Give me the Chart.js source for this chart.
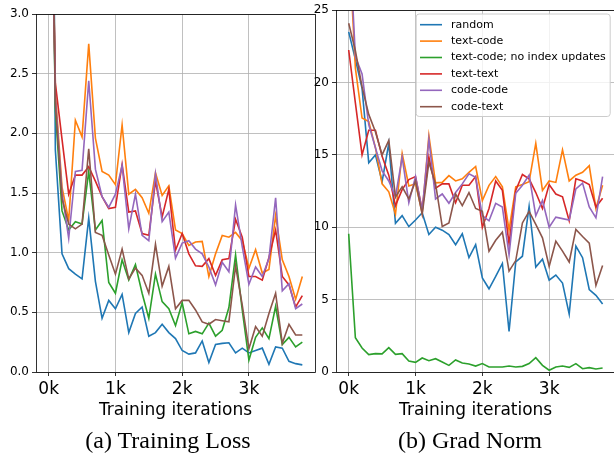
<!DOCTYPE html>
<html><head><meta charset="utf-8">
<script src="https://cdn.jsdelivr.net/npm/chart.js@4.4.1/dist/chart.umd.min.js"></script>
<style>
html,body{margin:0;padding:0;background:#fff;width:614px;height:457px;overflow:hidden;position:relative;}
canvas{position:absolute;top:0;}
#c1{left:0;}
#c2{left:300px;}
.cap{position:absolute;font-family:'Liberation Serif','Times New Roman',serif;font-size:24px;line-height:24px;color:#000;white-space:nowrap;transform:translateX(-50%);top:428px;}
</style></head><body>
<canvas id="c1" width="320" height="457"></canvas>
<canvas id="c2" width="320" height="457"></canvas>
<div class="cap" style="left:168px">(a) Training Loss</div>
<div class="cap" style="left:470px">(b) Grad Norm</div>
<script>
const iterations = [0,100,200,300,400,500,600,700,800,900,1000,1100,1200,1300,1400,1500,1600,1700,1800,1900,2000,2100,2200,2300,2400,2500,2600,2700,2800,2900,3000,3100,3200,3300,3400,3500,3600,3700,3800];
const seriesNames = ['random','text-code','text-code; no index updates','text-text','code-code','code-text'];
const seriesColors = ['#1f77b4','#ff7f0e','#2ca02c','#d62728','#9467bd','#8c564b'];
const xTicks = [0,1000,2000,3000];
const lossTicks = [0,0.5,1.0,1.5,2.0,2.5,3.0];
const gradTicks = [0,5,10,15,20,25];

// Training loss
const lossRandom   = [9.5,1.86,0.99,0.866,0.82,0.78,1.29,0.76,0.45,0.6,0.53,0.65,0.33,0.49,0.545,0.30,0.33,0.40,0.33,0.28,0.18,0.15,0.16,0.26,0.08,0.23,0.24,0.245,0.16,0.20,0.16,0.18,0.20,0.065,0.21,0.20,0.09,0.07,0.06];
const lossTextCode = [6.0,2.35,1.55,1.27,2.11,1.97,2.75,1.96,1.68,1.65,1.57,2.07,1.49,1.53,1.46,1.33,1.67,1.48,1.56,1.19,1.16,1.06,1.09,1.095,0.80,0.99,1.145,1.13,1.17,1.10,0.87,1.025,0.83,0.86,1.31,0.94,0.80,0.61,0.80];
const lossNoIndex  = [6.0,2.2,1.35,1.19,1.26,1.24,1.68,1.19,1.27,0.75,0.66,0.94,0.77,0.90,0.66,0.45,0.82,0.59,0.53,0.39,0.58,0.32,0.34,0.32,0.41,0.30,0.35,0.54,0.98,0.52,0.10,0.29,0.37,0.28,0.55,0.23,0.29,0.21,0.25];
const lossTextText = [5.3,2.42,1.95,1.49,1.65,1.65,1.72,1.60,1.47,1.37,1.38,1.74,1.34,1.35,1.16,1.145,1.60,1.30,1.53,1.02,1.16,0.99,0.89,0.885,0.95,0.81,0.94,0.95,1.28,1.13,0.80,0.80,0.77,0.96,1.19,0.80,0.73,0.545,0.64];
const lossCodeCode = [6.0,2.3,1.5,1.12,1.68,1.69,2.44,1.70,1.47,1.38,1.49,1.73,1.20,1.49,1.145,1.10,1.66,1.26,1.34,0.955,1.08,1.10,1.03,0.99,0.88,0.73,0.92,0.84,1.40,1.05,0.735,0.88,0.80,0.95,1.46,0.68,0.74,0.53,0.57];
const lossCodeText = [6.0,2.25,1.45,1.24,1.20,1.24,1.87,1.17,1.145,0.98,0.82,1.03,0.78,0.87,0.81,0.66,1.07,0.72,0.885,0.53,0.60,0.60,0.52,0.42,0.40,0.44,0.43,0.42,0.89,0.56,0.195,0.38,0.30,0.49,0.66,0.24,0.40,0.31,0.31];

// Grad norm
const gradRandom   = [23.5,21.6,19.6,14.45,15.0,13.15,15.8,10.28,10.8,10.05,10.5,11.0,9.5,10.0,9.8,9.5,8.8,9.55,7.9,8.8,6.5,5.75,6.6,7.5,2.8,7.6,8.0,11.44,7.25,7.8,6.35,6.7,6.15,4.0,8.7,7.9,5.7,5.3,4.7];
const gradTextCode = [30,21.0,17.55,17.3,15.5,13.0,12.45,10.9,15.1,12.85,13.0,11.0,16.33,13.07,13.1,13.57,13.2,13.35,13.8,14.2,11.85,12.9,13.5,12.8,9.8,12.8,12.95,13.15,15.8,12.55,13.2,13.1,15.35,13.2,13.6,13.8,14.25,11.3,12.9];
const gradNoIndex  = [9.55,2.37,1.66,1.2,1.27,1.25,1.68,1.22,1.27,0.76,0.67,0.97,0.78,0.92,0.69,0.46,0.83,0.62,0.55,0.41,0.58,0.35,0.35,0.35,0.41,0.35,0.39,0.58,0.99,0.46,0.12,0.35,0.41,0.32,0.58,0.23,0.30,0.21,0.28];
const gradTextText = [22.25,18.6,15.0,16.7,16.7,14.9,13.6,11.5,12.6,13.3,13.5,11.2,14.85,12.7,13.0,13.0,11.7,12.9,12.9,13.5,10.0,11.3,13.2,12.55,8.85,12.55,13.65,13.35,12.4,11.3,12.95,12.3,12.1,10.45,13.35,13.2,12.95,11.4,12.0];
const gradCodeCode = [31,21.8,20.6,17.1,15.5,13.9,13.2,12.1,14.85,11.7,13.5,11.15,16.1,11.96,12.3,11.66,12.4,13.0,13.7,13.45,10.8,10.45,11.65,11.4,8.1,12.35,12.9,13.6,10.8,11.85,10.0,10.7,10.6,10.5,12.65,13.05,11.4,10.65,13.5];
const gradCodeText = [24.1,22.2,19.7,17.8,16.6,15.0,16.0,12.1,12.8,11.96,13.2,10.9,14.5,13.0,10.05,10.3,12.3,11.5,12.4,11.3,11.1,8.35,9.1,9.66,6.97,7.7,10.3,11.1,10.2,9.27,7.3,9.04,8.35,7.6,9.85,9.36,8.9,5.98,7.36];

const lossSeries = [lossRandom,lossTextCode,lossNoIndex,lossTextText,lossCodeCode,lossCodeText];
const gradSeries = [gradRandom,gradTextCode,gradNoIndex,gradTextText,gradCodeCode,gradCodeText];

Chart.defaults.font.family = "'DejaVu Sans', sans-serif";
Chart.defaults.color = '#000';

function makeDatasets(series){
  return series.map((vals,k)=>({
    label: seriesNames[k],
    data: iterations.map((it,i)=>({x:it,y:vals[i]})),
    borderColor: seriesColors[k],
    backgroundColor: seriesColors[k],
    borderWidth: 1.6,
    pointRadius: 0,
    tension: 0,
    fill: false,
    clip: 0,
    order: series.length - 1 - k
  }));
}

const framePlugin = {
  id: 'frame',
  afterDraw(chart){
    const a = chart.chartArea, ctx = chart.ctx;
    ctx.save();
    ctx.strokeStyle = '#000';
    ctx.lineWidth = 0.8;
    ctx.strokeRect(Math.round(a.left)+0.5, Math.round(a.top)+0.5, Math.round(a.right)-Math.round(a.left), Math.round(a.bottom)-Math.round(a.top));
    ctx.restore();
  }
};

const legendPlugin = {
  id: 'mplLegend',
  afterDraw(chart, args, o){
    if (!o || !o.show) return;
    const ctx = chart.ctx;
    ctx.save();
    ctx.beginPath();
    ctx.roundRect(o.x+0.5, o.y+0.5, o.w, o.h, 3);
    ctx.fillStyle = 'rgba(255,255,255,0.8)';
    ctx.fill();
    ctx.strokeStyle = '#cccccc';
    ctx.lineWidth = 1;
    ctx.stroke();
    ctx.font = o.font;
    ctx.textBaseline = 'middle';
    chart.data.datasets.forEach((ds,k)=>{
      const yy = o.first + k*o.rowH;
      ctx.beginPath();
      ctx.moveTo(o.lineX0, yy); ctx.lineTo(o.lineX1, yy);
      ctx.strokeStyle = ds.borderColor; ctx.lineWidth = 1.6; ctx.stroke();
      ctx.fillStyle = '#000';
      ctx.fillText(ds.label, o.textX, yy);
    });
    ctx.restore();
  }
};

function makeChart(id, series, yTicks, yMax, yFmt, padTop, padRight, legendOpts){
  return new Chart(document.getElementById(id), {
    type: 'line',
    data: { datasets: makeDatasets(series) },
    plugins: [framePlugin, legendPlugin],
    options: {
      responsive: false,
      animation: false,
      layout: { padding: { left: 0, top: padTop, right: padRight, bottom: 30 } },
      plugins: { legend: { display: false }, tooltip: { enabled: false }, mplLegend: legendOpts },
      scales: {
        x: {
          type: 'linear', min: -190, max: 3990,
          afterBuildTicks: s => { s.ticks = xTicks.map(v=>({value:v})); },
          afterFit: s => { s.height = 55; },
          ticks: { callback: v => (v/1000) + 'k', font: { size: 17 }, color: '#000', padding: 3, maxRotation: 0 },
          grid: { color: '#b0b0b0', lineWidth: 0.8, drawTicks: true, tickLength: 4, tickColor: '#000', tickWidth: 0.8 },
          border: { display: false },
          title: { display: true, text: 'Training iterations', font: { size: 17 }, color: '#000', padding: { top: 0, bottom: 6 } }
        },
        y: {
          type: 'linear', min: 0, max: yMax,
          afterBuildTicks: s => { s.ticks = yTicks.map(v=>({value:v})); },
          afterFit: s => { s.width = 36; },
          ticks: { callback: yFmt, font: { size: 12 }, color: '#000', padding: 3 },
          grid: { color: '#b0b0b0', lineWidth: 0.8, drawTicks: true, tickLength: 4, tickColor: '#000', tickWidth: 0.8 },
          border: { display: false }
        }
      }
    }
  });
}

makeChart('c1', lossSeries, lossTicks, 3.0, v => v.toFixed(1), 14, 5, { show: false });
makeChart('c2', gradSeries, gradTicks, 25, v => String(v), 10, 4.7, {
  show: true, x: 115.7, y: 13.5, w: 194, h: 102.5,
  first: 24.7, rowH: 16.4, lineX0: 120, lineX1: 142, textX: 151,
  font: "11px 'DejaVu Sans', sans-serif"
});
</script>
</body></html>
